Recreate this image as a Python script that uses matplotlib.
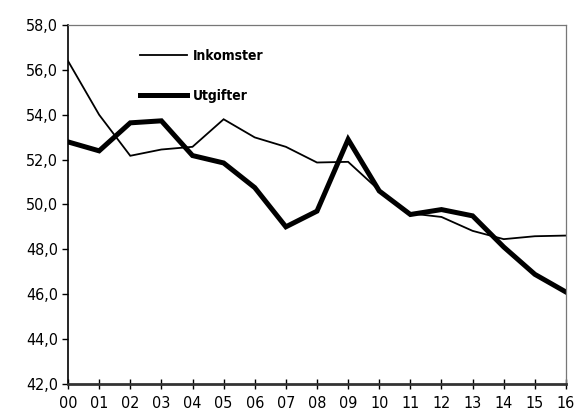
import numpy as np
import matplotlib
matplotlib.use("Agg")
import matplotlib.pyplot as plt
from matplotlib.ticker import FuncFormatter

# data
years = ["00", "01", "02", "03", "04", "05", "06", "07", "08",
         "09", "10", "11", "12", "13", "14", "15", "16"]
inkomster = [56.4, 54.0, 52.17, 52.45, 52.57, 53.8, 52.99, 52.57, 51.87,
             51.9, 50.63, 49.6, 49.44, 48.82, 48.45, 48.58, 48.61]
utgifter = [52.79, 52.39, 53.64, 53.73, 52.18, 51.85, 50.75, 49.0, 49.7,
            52.9, 50.6, 49.55, 49.77, 49.49, 48.1, 46.88, 46.09]

plt.rcParams['font.family'] = ['DejaVu Sans']
plt.rcParams['font.stretch'] = 'condensed'

fig = plt.figure(figsize=(5.74, 4.12), dpi=100)
ax = fig.add_axes([0.1185, 0.0687, 0.8675, 0.8703])

x = np.arange(len(years))
ax.plot(x, inkomster, color='black', lw=1.3, solid_joinstyle='miter', label='Inkomster')
ax.plot(x, utgifter, color='black', lw=3.6, solid_joinstyle='miter', label='Utgifter')

ax.set_xlim(0, 16)
ax.set_ylim(42, 58)
ax.set_yticks(np.arange(42, 58.1, 2))
ax.yaxis.set_major_formatter(FuncFormatter(lambda v, p: f"{v:.1f}".replace('.', ',')))
ax.set_xticks(x)
ax.set_xticklabels(years)

ax.tick_params(axis='y', direction='out', length=4, width=1, labelsize=11.5, pad=3)
ax.tick_params(axis='x', direction='inout', length=7, width=1, labelsize=11.5, pad=5)

ax.spines['left'].set_color('black')
ax.spines['left'].set_linewidth(1.2)
ax.spines['bottom'].set_color('#333333')
ax.spines['bottom'].set_linewidth(2)
for s in ['top', 'right']:
    ax.spines[s].set_color('#777777')
    ax.spines[s].set_linewidth(0.9)

leg = ax.legend(loc='upper left', bbox_to_anchor=(0.12, 0.968), frameon=False,
                handlelength=3.4, handletextpad=0.4, labelspacing=1.85,
                prop={'weight': 'bold', 'size': 10, 'stretch': 'condensed'})

fig.savefig("out.png", dpi=100)
